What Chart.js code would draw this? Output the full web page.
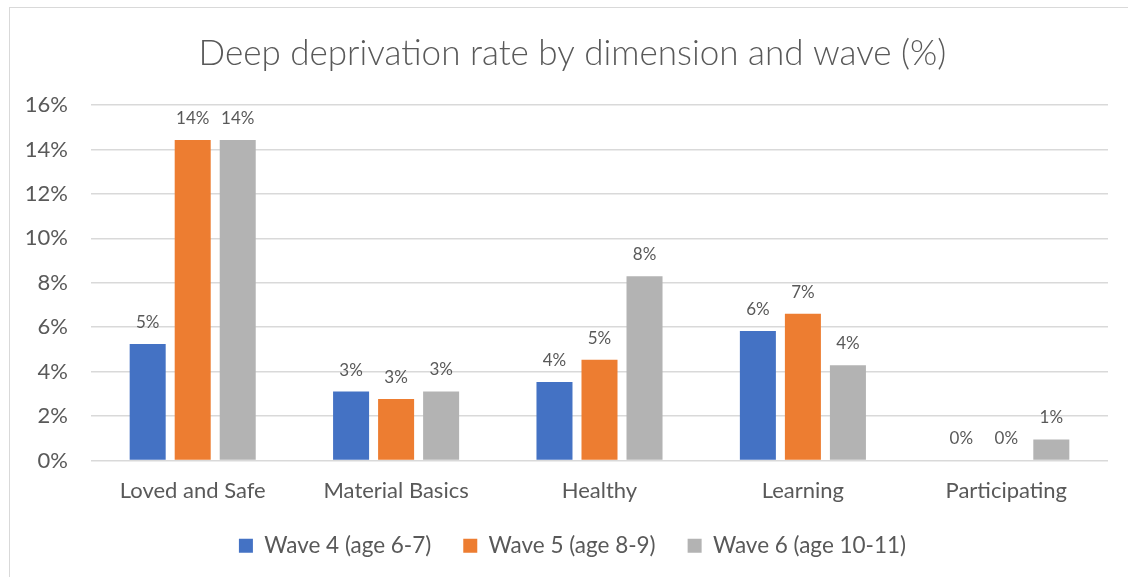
<!DOCTYPE html>
<html>
<head>
<meta charset="utf-8">
<script src="https://cdn.jsdelivr.net/npm/chart.js@4.4.1/dist/chart.umd.min.js"></script>
<style>
  html, body { margin: 0; padding: 0; background: #fff; overflow: hidden; }
  #frame {
    position: absolute; left: 9px; top: 7px;
    width: 1125px; height: 580px;
    border: 1px solid #d9d9d9;
  }
</style>
</head>
<body>
<div id="frame"><canvas id="chart"></canvas></div>
<script>
// categories and values (%)
const categories = ["Loved and Safe", "Material Basics", "Healthy", "Learning", "Participating"];
const wave4 = [5.24, 3.10, 3.53, 5.83, 0];
const wave5 = [14.43, 2.77, 4.53, 6.60, 0];
const wave6 = [14.43, 3.11, 8.29, 4.29, 0.95];
const seriesLabels = ["Wave 4 (age 6-7)", "Wave 5 (age 8-9)", "Wave 6 (age 10-11)"];
const yTicks = [0, 2, 4, 6, 8, 10, 12, 14, 16];

const FONT = "Lato, 'Open Sans', sans-serif";
const TXT = "#595959";

// simple value labels above each bar
const barLabels = {
  id: "barLabels",
  afterDatasetsDraw(chart) {
    const ctx = chart.ctx;
    ctx.save();
    ctx.font = "17px " + FONT;
    ctx.fillStyle = TXT;
    ctx.textAlign = "center";
    ctx.textBaseline = "bottom";
    chart.data.datasets.forEach((ds, i) => {
      chart.getDatasetMeta(i).data.forEach((bar, j) => {
        ctx.fillText(Math.round(ds.data[j]) + "%", bar.x, bar.y - 13);
      });
    });
    ctx.restore();
  }
};

const ctx = document.getElementById("chart").getContext("2d");
new Chart(ctx, {
  type: "bar",
  data: {
    labels: categories,
    datasets: [
      { label: seriesLabels[0], data: wave4, backgroundColor: "#4472C4" },
      { label: seriesLabels[1], data: wave5, backgroundColor: "#ED7D31" },
      { label: seriesLabels[2], data: wave6, backgroundColor: "#B3B3B3" },
    ],
  },
  options: {
    maintainAspectRatio: false,
    responsive: true,
    animation: false,
    layout: { padding: { left: 0, right: 0, top: 0, bottom: 21 } },
    datasets: { bar: { barPercentage: 0.8, categoryPercentage: 0.664 } },
    plugins: {
      title: {
        display: true,
        text: "Deep deprivation rate by dimension and wave (%)",
        color: TXT,
        font: { family: FONT, size: 35, weight: "300" },
        padding: { top: 25, bottom: 30 },
      },
      legend: {
        position: "bottom",
        labels: {
          color: TXT,
          font: { family: FONT, size: 22.5 },
          boxWidth: 14,
          boxHeight: 14,
          padding: 32,
        },
      },
      tooltip: { enabled: false },
    },
    scales: {
      x: {
        afterFit: (axis) => { axis.height = 42; },
        grid: { display: false, drawTicks: false },
        border: { display: false },
        ticks: { color: TXT, font: { family: FONT, size: 22, lineHeight: 1 }, padding: 19 },
      },
      y: {
        min: 0,
        max: 16,
        afterBuildTicks: (axis) => { axis.ticks = yTicks.map(v => ({ value: v })); },
        afterFit: (axis) => { axis.width = 81; },
        grid: { color: "#d9d9d9", lineWidth: 1.5, drawTicks: false },
        border: { display: false },
        ticks: {
          color: TXT,
          font: { family: FONT, size: 22 },
          padding: 23,
          callback: (v) => v + "%",
        },
      },
      // empty right-hand spacer so the plot stops short of the frame
      spacer: {
        type: "linear",
        position: "right",
        afterFit: (axis) => { axis.width = 27; },
        grid: { display: false, drawTicks: false },
        border: { display: false },
        ticks: { display: false },
      },
    },
  },
  plugins: [barLabels],
});
</script>
</body>
</html>
